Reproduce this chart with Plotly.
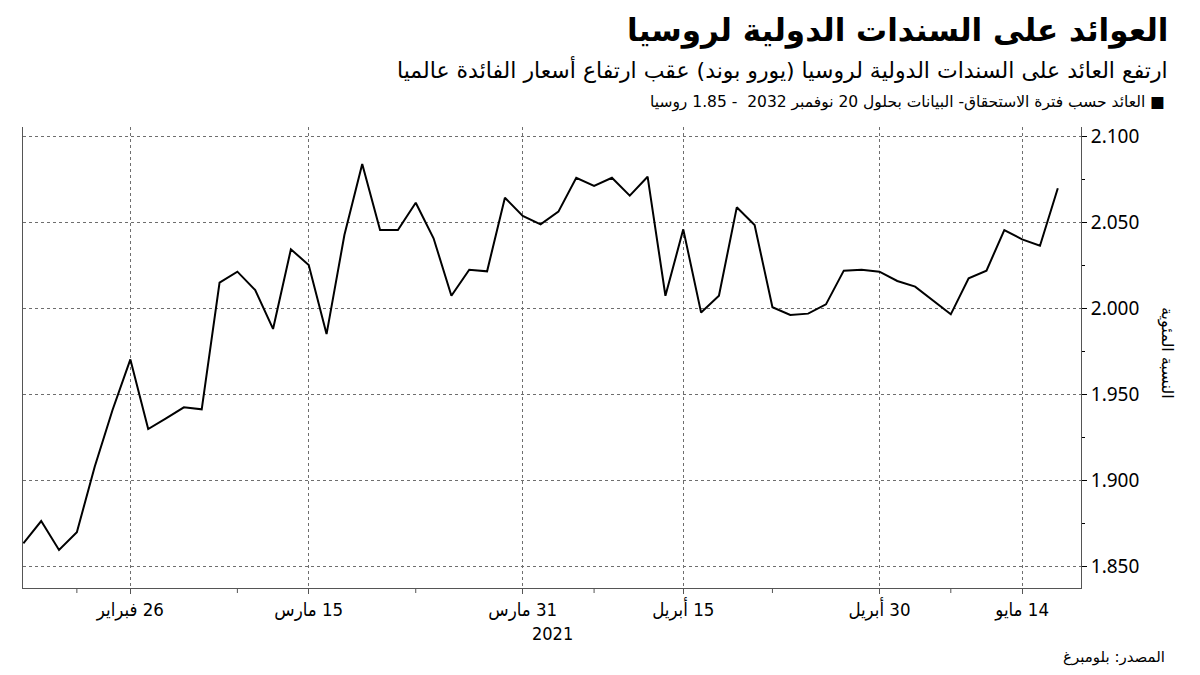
import plotly.graph_objects as go

# ---------------- data ----------------
dates = [
    "2021-02-18", "2021-02-19", "2021-02-22", "2021-02-23", "2021-02-24", "2021-02-25", "2021-02-26",
    "2021-03-01", "2021-03-02", "2021-03-03", "2021-03-04", "2021-03-05", "2021-03-09", "2021-03-10",
    "2021-03-11", "2021-03-12", "2021-03-15", "2021-03-16", "2021-03-17", "2021-03-18", "2021-03-19",
    "2021-03-22", "2021-03-23", "2021-03-24", "2021-03-25", "2021-03-26", "2021-03-29", "2021-03-30",
    "2021-03-31", "2021-04-01", "2021-04-06", "2021-04-07", "2021-04-08", "2021-04-09", "2021-04-12",
    "2021-04-13", "2021-04-14", "2021-04-15", "2021-04-16", "2021-04-19", "2021-04-20", "2021-04-21",
    "2021-04-22", "2021-04-23", "2021-04-26", "2021-04-27", "2021-04-28", "2021-04-29", "2021-04-30",
    "2021-05-04", "2021-05-05", "2021-05-06", "2021-05-07", "2021-05-11", "2021-05-12", "2021-05-13",
    "2021-05-14", "2021-05-17", "2021-05-18",
]
yields = [
    1.8634, 1.8763, 1.8595, 1.8698, 1.9079, 1.9409, 1.9703, 1.9298, 1.9360, 1.9424,
    1.9413, 2.0149, 2.0213, 2.0106, 1.9880, 2.0343, 2.0252, 1.9850, 2.0426, 2.0839,
    2.0455, 2.0455, 2.0614, 2.0407, 2.0073, 2.0224, 2.0215, 2.0643, 2.0537, 2.0488,
    2.0562, 2.0759, 2.0711, 2.0759, 2.0655, 2.0765, 2.0073, 2.0459, 1.9975, 2.0073,
    2.0587, 2.0484, 2.0006, 1.9961, 1.9969, 2.0023, 2.0219, 2.0224, 2.0213, 2.0159,
    2.0126, 2.0048, 1.9965, 2.0174, 2.0219, 2.0455, 2.0401, 2.0364, 2.0698,
]
x_tick_dates = ["2021-02-26", "2021-03-15", "2021-03-31", "2021-04-15", "2021-04-30", "2021-05-14"]
x_tick_labels = ["26 فبراير", "15 مارس", "31 مارس", "15 أبريل", "30 أبريل", "14 مايو"]
x_minor_dates = ["2021-02-23", "2021-03-09", "2021-03-23", "2021-04-08", "2021-04-22", "2021-05-07"]
y_tick_vals = [1.85, 1.90, 1.95, 2.00, 2.05, 2.10]

title_text = "العوائد على السندات الدولية لروسيا"
subtitle_text = "ارتفع العائد على السندات الدولية لروسيا (يورو بوند) عقب ارتفاع أسعار الفائدة عالميا"
legend_text = "■ العائد حسب فترة الاستحقاق- البيانات بحلول 20 نوفمبر 2032  - 1.85 روسيا"
source_text = "المصدر: بلومبرغ"
yaxis_title = "النسبة المئوية"
year_text = "2021"

RLE, PDF = "\u202B", "\u202C"
def rtl(s):
    return RLE + s + PDF

# ---------------- layout geometry ----------------
W, H = 1200, 675
L, R, T, B = 23, 1081, 127, 588
def px(x):
    return (x - L) / (R - L)
def py(y):
    return (B - y) / (B - T)

AR = "DejaVu Sans"
AR_COND = "DejaVu Sans Condensed, DejaVu Sans"
GRID = "#6e6e6e"
AXIS = "#555555"

fig = go.Figure()
fig.add_trace(go.Scatter(
    x=dates, y=yields, mode="lines",
    line=dict(color="#000000", width=2),
    hoverinfo="skip", showlegend=False,
))

def ann(text, x, y, size, family=AR, weight="normal", xanchor="right", angle=0):
    return dict(text=text, xref="paper", yref="paper", x=px(x), y=py(y),
                xanchor=xanchor, yanchor="middle", textangle=angle,
                font=dict(family=family, size=size, color="#000000", weight=weight),
                showarrow=False)

annotations = [
    ann(rtl(title_text), 1170, 31, 31, weight="bold"),
    ann(rtl(subtitle_text), 1170, 70, 22),
    ann(rtl(legend_text), 1167, 102, 15.5),
    ann(rtl(source_text), 1167, 657, 15),
    ann(rtl(yaxis_title), 1167, 353, 16, xanchor="center", angle=90),
    ann(year_text, 552, 633, 18, family=AR_COND, xanchor="center"),
]

shapes = []
for d in x_minor_dates:
    shapes.append(dict(type="line", xref="x", yref="paper", x0=d, x1=d,
                       y0=0, y1=-5 / (B - T), line=dict(color=AXIS, width=1)))

fig.update_layout(
    width=W, height=H,
    margin=dict(l=L, r=W - R, t=T, b=H - B),
    paper_bgcolor="#ffffff", plot_bgcolor="#ffffff",
    annotations=annotations, shapes=shapes,
    xaxis=dict(
        type="category",
        range=[-0.02, 59.3],
        tickmode="array", tickvals=x_tick_dates, ticktext=[rtl(t) for t in x_tick_labels],
        ticks="outside", ticklen=5, tickcolor=AXIS, tickwidth=1,
        showgrid=True, gridcolor=GRID, griddash="dot", gridwidth=1,
        showline=True, linecolor=AXIS, linewidth=1,
        tickfont=dict(family=AR_COND, size=18.5, color="#000000"),
        zeroline=False, fixedrange=True,
    ),
    yaxis=dict(
        side="right",
        range=[1.8374, 2.1054],
        tickmode="array", tickvals=y_tick_vals, tickformat=".3f",
        ticks="outside", ticklen=5, tickcolor="#000000", tickwidth=1,
        minor=dict(ticks="outside", ticklen=3, dtick=0.025, tick0=1.85,
                   tickcolor="#000000", showgrid=False),
        showgrid=True, gridcolor=GRID, griddash="dot", gridwidth=1,
        showline=True, mirror=True, linecolor=AXIS, linewidth=1,
        tickfont=dict(family="Noto Sans", size=19, color="#000000"),
        zeroline=False, fixedrange=True,
    ),
)

fig.write_html("out.html")
